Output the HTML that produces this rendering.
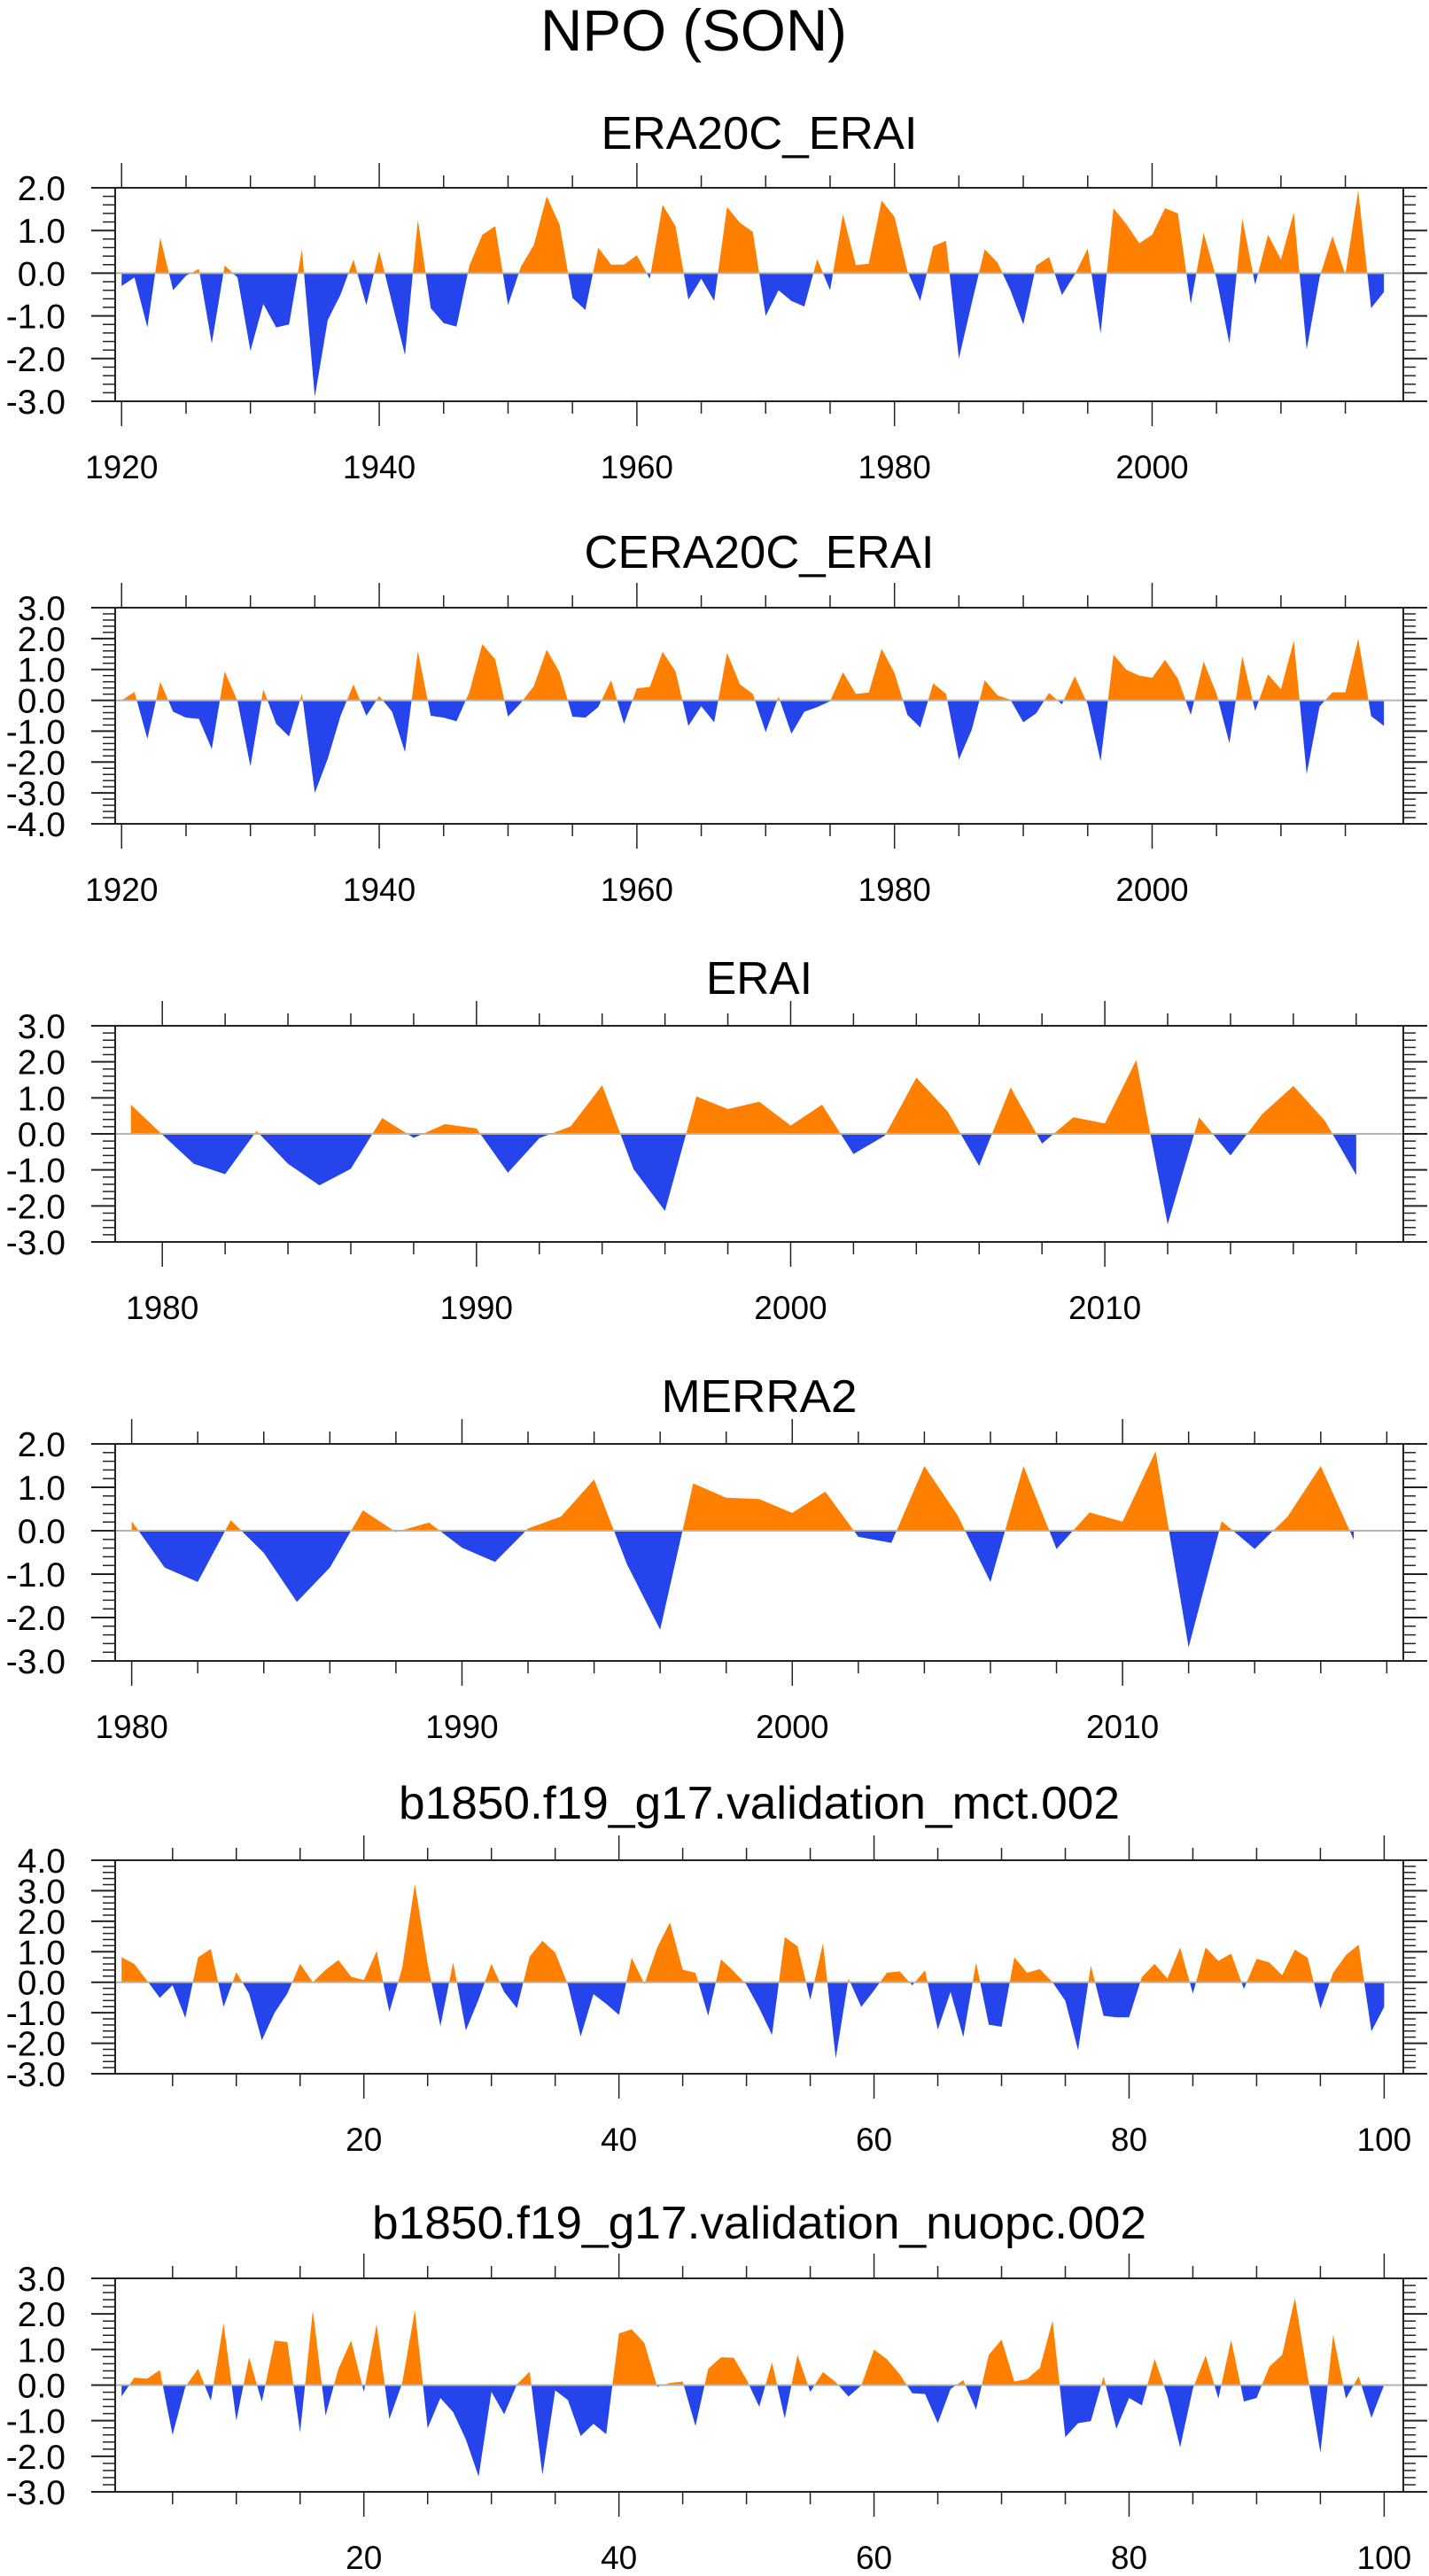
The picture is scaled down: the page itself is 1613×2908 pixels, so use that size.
<!DOCTYPE html>
<html>
<head>
<meta charset="utf-8">
<style>
  html, body { margin: 0; padding: 0; background: #fff; }
  svg { display: block; }
  text { font-family: "Liberation Sans", sans-serif; fill: #000; }
</style>
</head>
<body>
<svg id="fig" xmlns="http://www.w3.org/2000/svg" width="1613" height="2908" viewBox="0 0 1613 2908">
  <rect x="0" y="0" width="1613" height="2908" fill="#fff"/>
  <text x="783" y="57" font-size="66" text-anchor="middle" textLength="346" lengthAdjust="spacingAndGlyphs">NPO (SON)</text>
</svg>
<script>
// ---------------- DATA ----------------
const p1Start = 1920;
const p1Values = [-0.3,-0.1,-1.27,0.83,-0.4,-0.06,0.1,-1.65,0.18,-0.1,
  -1.82,-0.72,-1.27,-1.2,0.56,-2.9,-1.1,-0.5,0.32,-0.75,
  0.52,-0.7,-1.92,1.25,-0.82,-1.17,-1.25,0.18,0.9,1.1,
  -0.75,0.15,0.66,1.8,1.14,-0.58,-0.86,0.6,0.2,0.2,
  0.42,-0.13,1.6,1.1,-0.62,-0.13,-0.65,1.55,1.18,0.97,
  -1.0,-0.4,-0.65,-0.78,0.33,-0.4,1.38,0.19,0.22,1.7,
  1.32,0.05,-0.65,0.63,0.76,-2.0,-0.7,0.56,0.25,-0.4,
  -1.2,0.18,0.38,-0.51,-0.03,0.58,-1.41,1.52,1.15,0.7,
  0.9,1.52,1.4,-0.72,0.94,-0.13,-1.65,1.28,-0.27,0.9,
  0.32,1.42,-1.79,-0.1,0.87,-0.03,1.94,-0.82,-0.44];
const p1YTicks = [2,1,0,-1,-2,-3];
const p1XTicks = [1920,1940,1960,1980,2000];

const p2Start = 1920;
const p2Values = [0.0,0.27,-1.25,0.6,-0.37,-0.56,-0.6,-1.58,0.94,-0.03,
  -2.14,0.36,-0.76,-1.17,0.21,-3.0,-1.9,-0.5,0.52,-0.5,
  0.14,-0.37,-1.68,1.6,-0.5,-0.56,-0.68,0.27,1.82,1.33,
  -0.53,-0.08,0.46,1.64,0.91,-0.53,-0.56,-0.22,0.65,-0.76,
  0.39,0.43,1.57,0.94,-0.83,-0.19,-0.71,1.54,0.52,0.21,
  -1.03,0.12,-1.08,-0.37,-0.22,-0.03,0.91,0.21,0.25,1.67,
  0.89,-0.47,-0.88,0.55,0.21,-1.92,-0.95,0.65,0.16,0.02,
  -0.71,-0.42,0.24,-0.13,0.78,-0.13,-1.97,1.48,0.99,0.8,
  0.73,1.31,0.7,-0.47,1.26,0.21,-1.39,1.43,-0.35,0.84,
  0.36,1.93,-2.39,-0.2,0.26,0.26,2.0,-0.51,-0.83];
const p2YTicks = [3,2,1,0,-1,-2,-3,-4];
const p2XTicks = [1920,1940,1960,1980,2000];

const p3Start = 1979;
const p3Values = [0.81,-0.02,-0.83,-1.12,0.08,-0.83,-1.43,-0.97,0.44,-0.11,
  0.27,0.15,-1.08,-0.12,0.21,1.35,-0.98,-2.14,1.04,0.69,
  0.89,0.23,0.81,-0.56,-0.05,1.56,0.62,-0.89,1.29,-0.27,
  0.46,0.29,2.05,-2.51,0.46,-0.6,0.54,1.33,0.37,-1.14];
const p3YTicks = [3,2,1,0,-1,-2,-3];
const p3XTicks = [1980,1990,2000,2010];

const p4Start = 1980;
const p4Values = [0.22,-0.85,-1.18,0.24,-0.51,-1.64,-0.85,0.47,-0.03,0.19,
  -0.39,-0.72,0.05,0.33,1.18,-0.78,-2.28,1.09,0.76,0.73,
  0.41,0.9,-0.14,-0.28,1.49,0.36,-1.18,1.49,-0.42,0.42,
  0.21,1.83,-2.69,0.22,-0.42,0.33,1.49,-0.21];
const p4YTicks = [2,1,0,-1,-2,-3];
const p4XTicks = [1980,1990,2000,2010];

const p5Start = 1;
const p5Values = [0.82,0.6,0.05,-0.51,-0.1,-1.17,0.82,1.09,-0.81,0.33,
  -0.37,-1.9,-1.0,-0.37,0.6,0.0,0.41,0.73,0.18,0.07,
  1.02,-0.97,0.46,3.22,0.6,-1.44,0.65,-1.58,-0.56,0.6,
  -0.32,-0.85,0.84,1.36,0.97,-0.08,-1.78,-0.39,-0.71,-1.07,
  0.8,-0.06,1.14,1.96,0.41,0.31,-1.1,0.75,0.36,-0.08,
  -0.85,-1.73,1.48,1.18,-0.58,1.28,-2.5,0.12,-0.81,-0.27,
  0.31,0.36,-0.1,0.39,-1.55,-0.32,-1.8,0.65,-1.39,-1.46,
  0.82,0.31,0.43,0.0,-0.61,-2.23,0.55,-1.1,-1.15,-1.15,
  0.17,0.6,0.12,1.14,-0.37,1.14,0.7,0.94,-0.22,0.77,
  0.65,0.23,1.07,0.8,-0.87,0.31,0.89,1.23,-1.61,-0.81];
const p5YTicks = [4,3,2,1,0,-1,-2,-3];
const p5XTicks = [20,40,60,80,100];

const p6Start = 1;
const p6Values = [-0.32,0.21,0.18,0.42,-1.4,-0.05,0.46,-0.44,1.74,-1.0,
  0.78,-0.47,1.25,1.21,-1.33,2.1,-0.86,0.45,1.25,-0.19,
  1.71,-0.96,0.05,2.1,-1.21,-0.36,-0.76,-1.53,-2.57,-0.19,
  -0.82,0.02,0.38,-2.52,-0.15,-0.42,-1.43,-1.09,-1.38,1.45,
  1.57,1.18,-0.05,0.06,0.1,-1.15,0.46,0.78,0.77,0.16,
  -0.61,0.64,-0.94,0.85,-0.19,0.37,0.08,-0.32,-0.01,1.0,
  0.73,0.31,-0.23,-0.25,-1.07,-0.11,0.14,-0.69,0.85,1.28,
  0.1,0.17,0.48,1.81,-1.46,-1.07,-1.01,0.24,-1.23,-0.36,
  -0.57,0.74,-0.3,-1.75,-0.1,0.83,-0.38,1.27,-0.46,-0.36,
  0.52,0.85,2.45,0.25,-1.9,1.42,-0.38,0.25,-0.92,0.01];
const p6YTicks = [3,2,1,0,-1,-2,-3];
const p6XTicks = [20,40,60,80,100];

// ---------------- LAYOUT ----------------
const NS = "http://www.w3.org/2000/svg";
const svg = document.getElementById("fig");
const BOX_L = 130, BOX_R = 1584;
const ORANGE = "rgb(255,128,0)", BLUE = "rgb(38,68,236)";

function mk(tag, attrs, parent) {
  const e = document.createElementNS(NS, tag);
  for (const k in attrs) e.setAttribute(k, attrs[k]);
  (parent || svg).appendChild(e);
  return e;
}

function drawPanel(cfg) {
  const g = mk("g", {});
  
  
  const top = cfg.top, bot = cfg.bottom;
  const xs = v => BOX_L + (v - cfg.xmin) / (cfg.xmax - cfg.xmin) * (BOX_R - BOX_L);
  const ys = v => top + (cfg.ymax - v) / (cfg.ymax - cfg.ymin) * (bot - top);

  // title
  const t = mk("text", {x: 857, y: cfg.titleY, "font-size": 52, "text-anchor": "middle",
    textLength: cfg.titleW, lengthAdjust: "spacingAndGlyphs"}, g);
  t.textContent = cfg.title;
  
  

  // area fill
  const y0 = ys(0);
  const pts = [];
  const n = cfg.values.length;
  pts.push(xs(cfg.start) + "," + y0);
  for (let i = 0; i < n; i++) pts.push(xs(cfg.start + i) + "," + ys(cfg.values[i]));
  pts.push(xs(cfg.start + n - 1) + "," + y0);
  const id = cfg.name;
  const defs = mk("defs", {}, g);
  const cpA = mk("clipPath", {id: id + "-above"}, defs);
  mk("rect", {x: BOX_L, y: top, width: BOX_R - BOX_L, height: y0 - top}, cpA);
  const cpB = mk("clipPath", {id: id + "-below"}, defs);
  mk("rect", {x: BOX_L, y: y0, width: BOX_R - BOX_L, height: bot - y0}, cpB);
  const pa = mk("polygon", {points: pts.join(" "), fill: ORANGE, "clip-path": "url(#" + id + "-above)"}, g);
  
  
  const pb = mk("polygon", {points: pts.join(" "), fill: BLUE, "clip-path": "url(#" + id + "-below)"}, g);
  
  

  // zero line
  const zl = mk("line", {x1: BOX_L, x2: BOX_R, y1: y0, y2: y0, stroke: "#b4b4b4", "stroke-width": 2}, g);
  
  

  // y ticks (major + minor every 0.2), outward both sides
  for (let k = Math.round(cfg.ymin * 5); k <= Math.round(cfg.ymax * 5); k++) {
    const y = ys(k / 5);
    const major = (k % 5 === 0);
    const len = major ? 27 : 14;
    mk("line", {x1: BOX_L - len, x2: BOX_L, y1: y, y2: y, stroke: "#222", "stroke-width": major ? 2 : 1.5}, g);
    mk("line", {x1: BOX_R, x2: BOX_R + len, y1: y, y2: y, stroke: "#222", "stroke-width": major ? 2 : 1.5}, g);
  }
  cfg.yTicks.forEach(v => {
    const tl = mk("text", {x: 74, y: ys(v) + 14, "font-size": 39, "text-anchor": "end"}, g);
    tl.textContent = v.toFixed(1);
    
    
  });

  // x ticks outward top & bottom
  const mStart = Math.ceil(cfg.xmin / cfg.minor) * cfg.minor;
  for (let v = mStart; v <= cfg.xmax; v += cfg.minor) {
    const x = xs(v);
    const major = cfg.xTicks.indexOf(v) >= 0;
    const len = major ? 28 : 14;
    mk("line", {x1: x, x2: x, y1: top - len, y2: top, stroke: "#222", "stroke-width": 1.5}, g);
    mk("line", {x1: x, x2: x, y1: bot, y2: bot + len, stroke: "#222", "stroke-width": 1.5}, g);
  }
  cfg.xTicks.forEach(v => {
    const tl = mk("text", {x: xs(v), y: bot + 87, "font-size": 37, "text-anchor": "middle"}, g);
    tl.textContent = String(v);
    
    
  });

  // border
  const br = mk("rect", {x: BOX_L, y: top, width: BOX_R - BOX_L, height: bot - top, fill: "none", stroke: "#222", "stroke-width": 2}, g);
  
  
}

drawPanel({name: "panel-era20c-erai", title: "ERA20C_ERAI", titleY: 168, titleW: 357,
  top: 212, bottom: 453, ymin: -3, ymax: 2, xmin: 1919.5, xmax: 2019.5, minor: 5,
  start: p1Start, values: p1Values, yTicks: p1YTicks, xTicks: p1XTicks});
drawPanel({name: "panel-cera20c-erai", title: "CERA20C_ERAI", titleY: 641, titleW: 395,
  top: 686, bottom: 930, ymin: -4, ymax: 3, xmin: 1919.5, xmax: 2019.5, minor: 5,
  start: p2Start, values: p2Values, yTicks: p2YTicks, xTicks: p2XTicks});
drawPanel({name: "panel-erai", title: "ERAI", titleY: 1122, titleW: 120,
  top: 1158, bottom: 1402, ymin: -3, ymax: 3, xmin: 1978.5, xmax: 2019.5, minor: 2,
  start: p3Start, values: p3Values, yTicks: p3YTicks, xTicks: p3XTicks});
drawPanel({name: "panel-merra2", title: "MERRA2", titleY: 1594, titleW: 221,
  top: 1630, bottom: 1875, ymin: -3, ymax: 2, xmin: 1979.5, xmax: 2018.5, minor: 2,
  start: p4Start, values: p4Values, yTicks: p4YTicks, xTicks: p4XTicks});
drawPanel({name: "panel-mct", title: "b1850.f19_g17.validation_mct.002", titleY: 2053, titleW: 814,
  top: 2100, bottom: 2341, ymin: -3, ymax: 4, xmin: 0.5, xmax: 101.5, minor: 5,
  start: p5Start, values: p5Values, yTicks: p5YTicks, xTicks: p5XTicks});
drawPanel({name: "panel-nuopc", title: "b1850.f19_g17.validation_nuopc.002", titleY: 2527, titleW: 874,
  top: 2572, bottom: 2813, ymin: -3, ymax: 3, xmin: 0.5, xmax: 101.5, minor: 5,
  start: p6Start, values: p6Values, yTicks: p6YTicks, xTicks: p6XTicks});
</script>
</body>
</html>
